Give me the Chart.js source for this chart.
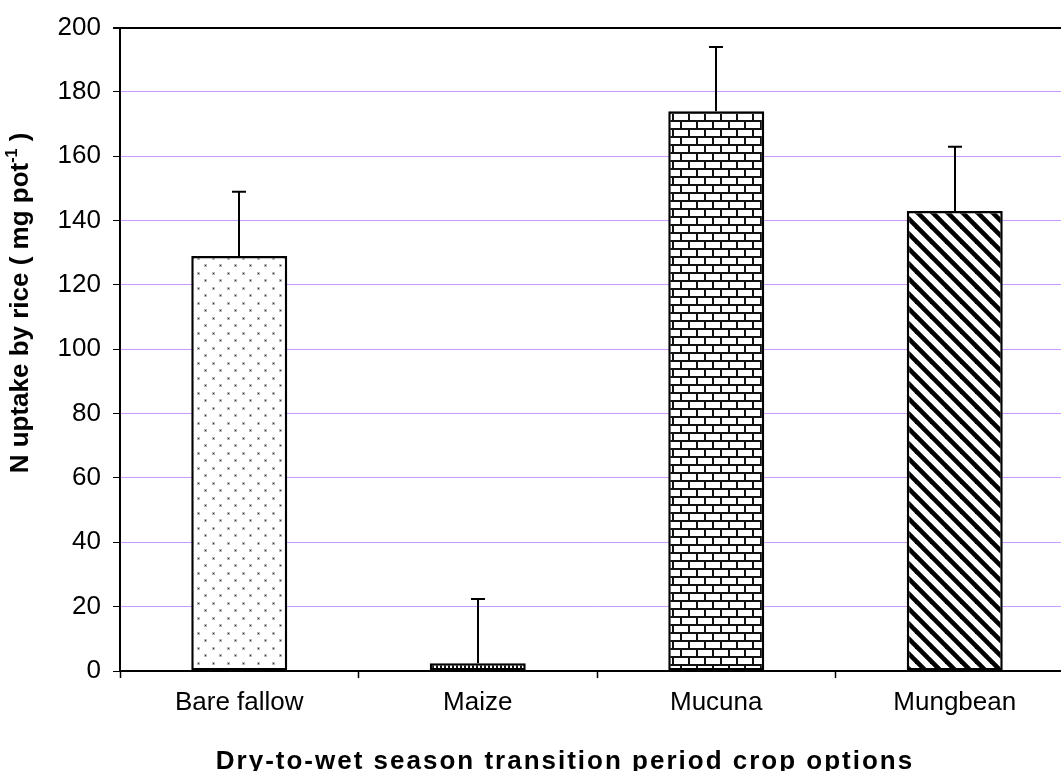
<!DOCTYPE html>
<html>
<head>
<meta charset="utf-8">
<script src="https://cdn.jsdelivr.net/npm/chart.js@4/dist/chart.umd.min.js"></script>
<style>
  html, body { margin: 0; padding: 0; background: #fff; overflow: hidden; width: 1061px; height: 771px; }
  canvas { display: block; }
</style>
</head>
<body>
<canvas id="chart" width="1090" height="771"></canvas>
<script>
// N uptake by rice for each transition-period crop option
const categories = ['Bare fallow', 'Maize', 'Mucuna', 'Mungbean'];
const uptake = [129, 2.4, 174, 143];
const uptakeErr = [20, 20, 20, 20];
const yTickValues = [0, 20, 40, 60, 80, 100, 120, 140, 160, 180, 200];

const xTitle = 'Dry-to-wet season transition period crop options';
const yTitleMain = 'N uptake by rice ( mg pot';
const yTitleSup = '-1';
const yTitleEnd = ' )';

const FONT = "'Liberation Sans', Arial, sans-serif";
const canvas = document.getElementById('chart');
const ctx = canvas.getContext('2d');

// Hatch fills for the bars
function tile(w, h, paint) {
  const c = document.createElement('canvas');
  c.width = w; c.height = h;
  const g = c.getContext('2d');
  g.fillStyle = '#fff';
  g.fillRect(0, 0, w, h);
  paint(g, w, h);
  return ctx.createPattern(c, 'repeat');
}

const dotted = tile(15, 15, g => {
  g.fillStyle = '#bbb';
  g.fillRect(2, 2, 3, 3);
  g.fillRect(9, 9, 3, 3);
  g.fillStyle = '#333';
  g.fillRect(3, 3, 1, 1);
  g.fillRect(10, 10, 1, 1);
});

const narrowVertical = tile(4, 4, g => {
  g.fillStyle = '#111';
  g.fillRect(0, 0, 2, 4);
});

const brick = tile(16, 16, g => {
  g.fillStyle = '#111';
  g.fillRect(0, 0, 16, 2);
  g.fillRect(0, 8, 16, 2);
  g.fillRect(0, 0, 2, 8);
  g.fillRect(8, 8, 2, 8);
});

const wideDownDiagonal = tile(15, 15, g => {
  g.strokeStyle = '#000';
  g.lineWidth = 4.6;
  for (const k of [-15, 0, 15]) {
    g.beginPath();
    g.moveTo(k - 5, -5);
    g.lineTo(k + 20, 20);
    g.stroke();
  }
});

const barFills = [dotted, narrowVertical, brick, wideDownDiagonal];

// Gridline colours per tick: the 0 line is the axis itself, the 200 line is black
const gridColors = yTickValues.map(v => v === 200 ? '#000' : (v === 0 ? 'rgba(0,0,0,0)' : '#cc99ff'));
const gridWidths = yTickValues.map(v => v === 200 ? 2 : 1);

// Upper error whiskers and the axis titles
const extras = {
  id: 'extras',
  afterDatasetsDraw(chart) {
    const c = chart.ctx;
    const yScale = chart.scales.y;
    const meta = chart.getDatasetMeta(0);
    c.save();
    c.strokeStyle = '#000';
    c.lineWidth = 2;
    meta.data.forEach((bar, i) => {
      const yTop = yScale.getPixelForValue(uptake[i] + uptakeErr[i]);
      const x = Math.round(bar.x);
      c.beginPath();
      c.moveTo(x, bar.y);
      c.lineTo(x, yTop);
      c.moveTo(x - 7, yTop);
      c.lineTo(x + 7, yTop);
      c.stroke();
    });
    c.restore();
  },
  afterDraw(chart) {
    const c = chart.ctx;
    c.save();
    c.fillStyle = '#000';
    // x axis title
    c.font = 'bold 26px ' + FONT;
    c.letterSpacing = '2px';
    c.textAlign = 'center';
    c.textBaseline = 'alphabetic';
    c.fillText(xTitle, 565, 769);
    c.letterSpacing = '0px';

    // y axis title with superscript
    const mainFont = 'bold 26px ' + FONT;
    const supFont = 'bold 16px ' + FONT;
    c.font = mainFont;
    const w1 = c.measureText(yTitleMain).width;
    const w3 = c.measureText(yTitleEnd).width;
    c.font = supFont;
    const w2 = c.measureText(yTitleSup).width;
    const total = w1 + w2 + w3;
    c.translate(28, 303);
    c.rotate(-Math.PI / 2);
    c.textAlign = 'left';
    let x = -total / 2;
    c.font = mainFont;
    c.fillText(yTitleMain, x, 0);
    x += w1;
    c.font = supFont;
    c.fillText(yTitleSup, x, -11);
    x += w2;
    c.font = mainFont;
    c.fillText(yTitleEnd, x, 0);
    c.restore();
  }
};

new Chart(ctx, {
  type: 'bar',
  data: {
    labels: categories,
    datasets: [{
      data: uptake,
      backgroundColor: barFills,
      borderColor: '#000',
      borderWidth: 2.5,
      borderSkipped: false,
      barPercentage: 0.4025,
      categoryPercentage: 1
    }]
  },
  options: {
    responsive: false,
    animation: false,
    devicePixelRatio: 1,
    layout: { padding: { top: 25, right: 16, left: 0, bottom: 0 } },
    plugins: { legend: { display: false }, tooltip: { enabled: false }, title: { display: false } },
    scales: {
      x: {
        afterFit(s) { s.height = 100; },
        grid: { drawOnChartArea: false, drawTicks: true, tickLength: 7, tickColor: '#000', tickWidth: 1.5 },
        border: { display: true, color: '#000', width: 2 },
        ticks: { color: '#000', font: { family: FONT, size: 26 }, padding: 9, maxRotation: 0 }
      },
      y: {
        min: 0,
        max: 200,
        afterFit(s) { s.width = 120; },
        afterBuildTicks(s) { s.ticks = yTickValues.map(v => ({ value: v })); },
        grid: {
          drawTicks: true,
          tickLength: 7,
          tickColor: '#000',
          color: gridColors,
          lineWidth: gridWidths
        },
        border: { display: true, color: '#000', width: 2 },
        ticks: { color: '#000', font: { family: FONT, size: 26 }, padding: 12 }
      }
    }
  },
  plugins: [extras]
});
</script>
</body>
</html>
